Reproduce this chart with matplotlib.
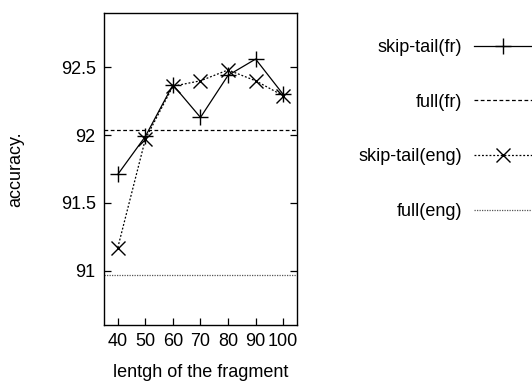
import matplotlib
matplotlib.use("Agg")
import matplotlib.pyplot as plt

lengths = [40, 50, 60, 70, 80, 90, 100]
skip_tail_fr = [91.71, 91.99, 92.37, 92.13, 92.44, 92.56, 92.30]
skip_tail_eng = [91.17, 91.97, 92.36, 92.40, 92.48, 92.40, 92.29]
full_fr = 92.04
full_eng = 90.965
yticks = [91, 91.5, 92, 92.5]
ytick_labels = ["91", "91.5", "92", "92.5"]

plt.rcParams['font.family'] = ['Liberation Sans', 'DejaVu Sans']
fig = plt.figure(figsize=(5.32, 3.81), dpi=100)
ax = fig.add_axes([0.1955, 0.147, 0.3627, 0.819])

ax.plot(lengths, skip_tail_fr, color='black', lw=0.9, ls='-', marker='+', ms=12, mew=1.0,
        label='skip-tail(fr)')
ax.axhline(full_fr, color='black', lw=0.9, ls=(0, (3, 2)), label='full(fr)')
ax.plot(lengths, skip_tail_eng, color='black', lw=0.9, ls=(0, (1.5, 1.5)), marker='x', ms=10, mew=1.0,
        label='skip-tail(eng)')
ax.axhline(full_eng, color='#555555', lw=0.9, ls=(0, (1, 1)), label='full(eng)')

ax.set_xlim(35, 105)
ax.set_ylim(90.6, 92.9)
ax.set_xticks(lengths)
ax.set_yticks(yticks)
ax.set_yticklabels(ytick_labels)
ax.tick_params(direction='in', length=5, width=0.9, labelsize=13, right=True, top=False, pad=6)
for s in ax.spines.values():
    s.set_linewidth(1.0)
ax.set_xlabel('lentgh of the fragment', fontsize=13, labelpad=10)
ax.set_ylabel('accuracy.', fontsize=13, labelpad=26)

fig.legend(loc='upper right', bbox_to_anchor=(1.0, 0.897), frameon=False, markerfirst=False,
           handlelength=3.2, handletextpad=0.65, labelspacing=2.08, fontsize=13,
           borderpad=0, borderaxespad=0)

fig.savefig('out.png', dpi=100)
